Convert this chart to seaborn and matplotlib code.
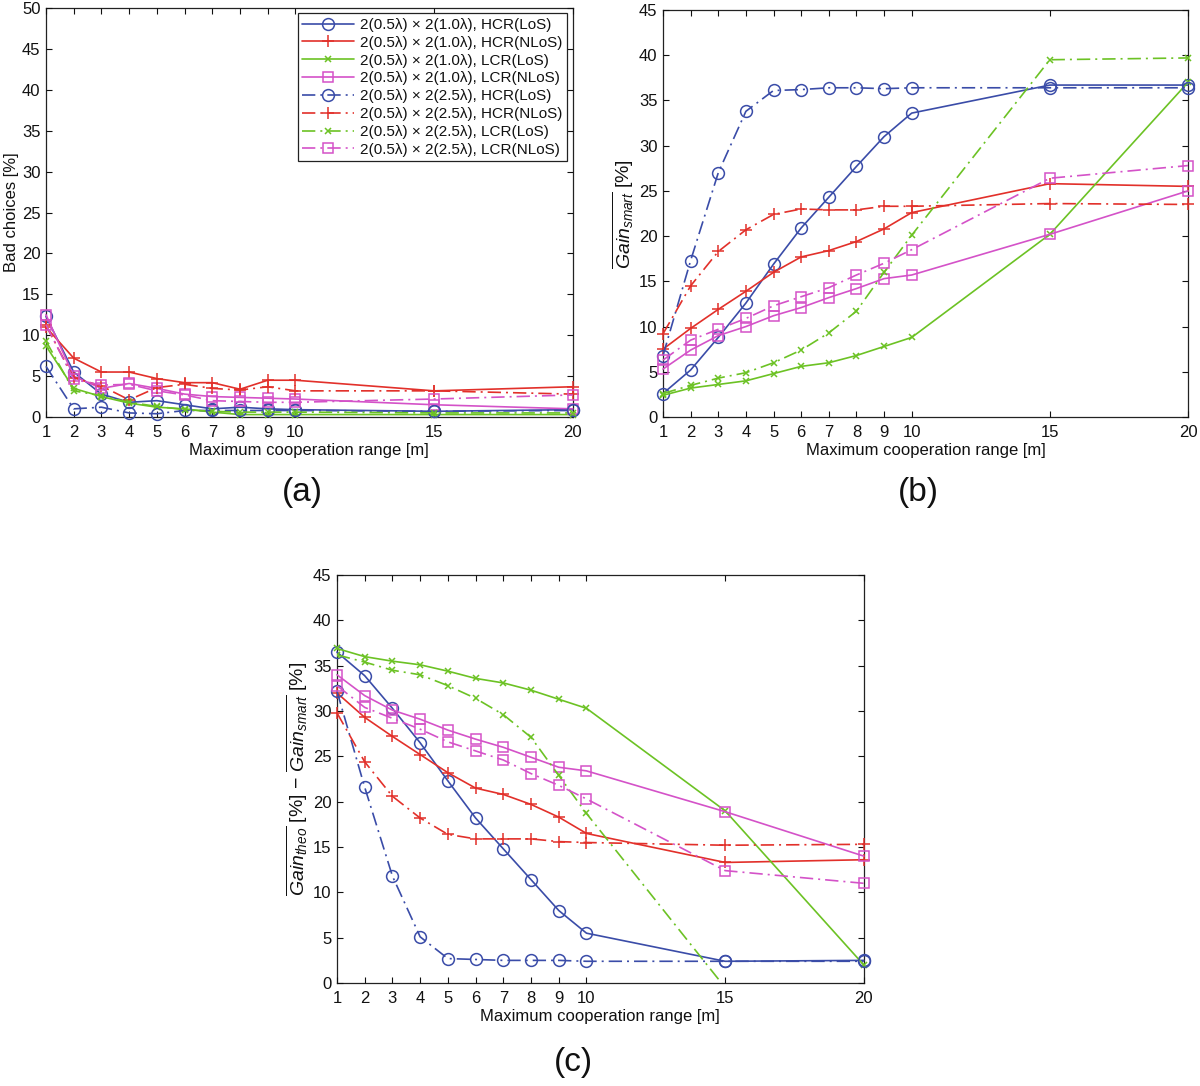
#!/usr/bin/env python3
"""
Bad choices and smart-gain curves versus maximum cooperation range,
three panels (a), (b), (c) in MATLAB-like style.
"""

import pandas as pd
import matplotlib.pyplot as plt
import seaborn as sns


# Data
RANGES = [1, 2, 3, 4, 5, 6, 7, 8, 9, 10, 15, 20]

LABELS = [
    "2(0.5λ) × 2(1.0λ), HCR(LoS)",
    "2(0.5λ) × 2(1.0λ), HCR(NLoS)",
    "2(0.5λ) × 2(1.0λ), LCR(LoS)",
    "2(0.5λ) × 2(1.0λ), LCR(NLoS)",
    "2(0.5λ) × 2(2.5λ), HCR(LoS)",
    "2(0.5λ) × 2(2.5λ), HCR(NLoS)",
    "2(0.5λ) × 2(2.5λ), LCR(LoS)",
    "2(0.5λ) × 2(2.5λ), LCR(NLoS)",
]

# (a) Bad choices [%]
bad_hcr_los_10 = [12.3, 5.5, 2.8, 1.8, 2.0, 1.5, 1.0, 1.2, 1.0, 0.9, 0.7, 0.9]
bad_hcr_nlos_10 = [11.0, 7.2, 5.5, 5.5, 4.7, 4.2, 4.2, 3.4, 4.5, 4.5, 3.2, 3.7]
bad_lcr_los_10 = [8.7, 3.5, 2.5, 1.7, 1.2, 1.0, 0.6, 0.3, 0.3, 0.3, 0.3, 0.3]
bad_lcr_nlos_10 = [12.5, 5.0, 3.5, 4.1, 3.5, 2.8, 2.5, 2.4, 2.3, 2.2, 1.5, 1.0]
bad_hcr_los_25 = [6.2, 1.0, 1.2, 0.5, 0.4, 0.8, 0.8, 0.8, 0.8, 0.8, 0.7, 0.8]
bad_hcr_nlos_25 = [11.2, 4.8, 3.8, 2.1, 3.6, 4.0, 3.5, 3.3, 3.7, 3.2, 3.2, 2.8]
bad_lcr_los_25 = [9.3, 3.2, 2.6, 1.8, 1.3, 0.9, 0.7, 0.6, 0.6, 0.6, 0.5, 0.5]
bad_lcr_nlos_25 = [11.3, 4.6, 3.9, 4.0, 3.2, 2.7, 2.0, 1.9, 1.8, 1.8, 2.2, 2.7]

# (b) mean smart gain [%]
smart_hcr_los_10 = [2.6, 5.2, 8.8, 12.6, 16.9, 20.9, 24.3, 27.7, 31.0, 33.6, 36.7, 36.7]
smart_hcr_nlos_10 = [7.5, 9.8, 11.9, 13.9, 16.0, 17.7, 18.4, 19.4, 20.8, 22.6, 25.8, 25.5]
smart_lcr_los_10 = [2.4, 3.2, 3.6, 4.0, 4.8, 5.6, 6.0, 6.8, 7.8, 8.8, 20.2, 37.0]
smart_lcr_nlos_10 = [5.3, 7.4, 9.0, 10.0, 11.2, 12.1, 13.2, 14.2, 15.3, 15.7, 20.2, 25.0]
smart_hcr_los_25 = [6.8, 17.3, 27.0, 33.8, 36.1, 36.2, 36.4, 36.4, 36.3, 36.4, 36.4, 36.4]
smart_hcr_nlos_25 = [9.2, 14.5, 18.3, 20.7, 22.4, 23.0, 22.9, 22.9, 23.3, 23.3, 23.6, 23.5]
smart_lcr_los_25 = [2.6, 3.5, 4.3, 4.9, 6.0, 7.4, 9.3, 11.7, 16.0, 20.1, 39.5, 39.7]
smart_lcr_nlos_25 = [6.3, 8.5, 9.7, 10.9, 12.3, 13.3, 14.3, 15.7, 17.0, 18.5, 26.4, 27.8]

# (c) mean theoretical gain minus mean smart gain [%]
diff_hcr_los_10 = [36.5, 33.9, 30.3, 26.5, 22.3, 18.2, 14.8, 11.4, 8.0, 5.5, 2.4, 2.5]
diff_hcr_nlos_10 = [32.0, 29.3, 27.2, 25.2, 23.2, 21.5, 20.8, 19.7, 18.3, 16.5, 13.3, 13.6]
diff_lcr_los_10 = [36.9, 36.0, 35.5, 35.1, 34.4, 33.6, 33.1, 32.3, 31.3, 30.3, 19.0, 2.0]
diff_lcr_nlos_10 = [34.0, 31.7, 30.1, 29.1, 27.9, 26.9, 26.0, 24.9, 23.8, 23.4, 18.9, 14.0]
diff_hcr_los_25 = [32.2, 21.6, 11.8, 5.1, 2.7, 2.6, 2.5, 2.5, 2.5, 2.4, 2.4, 2.4]
diff_hcr_nlos_25 = [29.8, 24.4, 20.6, 18.2, 16.4, 15.9, 15.9, 15.9, 15.6, 15.5, 15.2, 15.3]
diff_lcr_los_25 = [36.2, 35.4, 34.5, 34.0, 32.8, 31.4, 29.6, 27.1, 22.9, 18.7, -0.5, -0.7]
diff_lcr_nlos_25 = [32.8, 30.4, 29.2, 28.0, 26.6, 25.6, 24.6, 23.1, 21.8, 20.3, 12.4, 11.0]


# Style
sns.set_theme(style="ticks", context="notebook")
plt.rcParams["font.family"] = ["Liberation Sans", "DejaVu Sans"]
plt.rcParams["mathtext.fontset"] = "custom"
plt.rcParams["mathtext.rm"] = "Liberation Sans"
plt.rcParams["mathtext.it"] = "Liberation Sans:italic"
plt.rcParams["xtick.direction"] = "in"
plt.rcParams["ytick.direction"] = "in"
plt.rcParams["text.color"] = "#111111"
plt.rcParams["axes.labelcolor"] = "#111111"
plt.rcParams["xtick.color"] = "#111111"
plt.rcParams["ytick.color"] = "#111111"

BLUE = "#3a4ca8"
RED = "#e2302a"
GREEN = "#6cc224"
MAGENTA = "#d452c8"
DASHDOT = (0, (8, 3, 1.2, 3))

# colour, marker, marker size, line style for each of the 8 series
STYLES = [
    (BLUE, "o", 8.5, "-"),
    (RED, "+", 8, "-"),
    (GREEN, "x", 5, "-"),
    (MAGENTA, "s", 7, "-"),
    (BLUE, "o", 8.5, DASHDOT),
    (RED, "+", 8, DASHDOT),
    (GREEN, "x", 5, DASHDOT),
    (MAGENTA, "s", 7, DASHDOT),
]


def draw_panel(ax, series, ymax, ylabel, ylabel_size=12):
    for label, values, (color, marker, ms, ls) in zip(LABELS, series, STYLES):
        df = pd.DataFrame({"range": RANGES, "value": values})
        sns.lineplot(
            data=df, x="range", y="value", ax=ax, label=label,
            color=color, linestyle=ls, linewidth=1.2,
            marker=marker, markersize=ms, markerfacecolor="none",
            markeredgecolor=color, markeredgewidth=1.1,
            errorbar=None, sort=False, legend=False,
            clip_on=min(values) < 0,
        )
    ax.set_xlim(1, 20)
    ax.set_ylim(0, ymax)
    ax.set_xticks(RANGES)
    ax.set_yticks(range(0, ymax + 1, 5))
    ax.tick_params(top=True, right=True, labelsize=12, length=4,
                   width=0.8, pad=4)
    ax.tick_params(axis="x", pad=6)
    for side in ax.spines.values():
        side.set_linewidth(0.9)
        side.set_color("#222222")
        side.set_zorder(0.5)
    ax.set_xlabel("Maximum cooperation range [m]", fontsize=12, labelpad=2)
    ax.set_ylabel(ylabel, fontsize=ylabel_size, labelpad=2)


fig = plt.figure(figsize=(12, 10.86), dpi=100)

ax_a = fig.add_axes([0.0383, 0.616, 0.439, 0.3766])
ax_b = fig.add_axes([0.5525, 0.616, 0.4375, 0.3748])
ax_c = fig.add_axes([0.2808, 0.0948, 0.439, 0.3757])

draw_panel(ax_a,
           [bad_hcr_los_10, bad_hcr_nlos_10, bad_lcr_los_10, bad_lcr_nlos_10,
            bad_hcr_los_25, bad_hcr_nlos_25, bad_lcr_los_25, bad_lcr_nlos_25],
           50, "Bad choices [%]")
draw_panel(ax_b,
           [smart_hcr_los_10, smart_hcr_nlos_10, smart_lcr_los_10, smart_lcr_nlos_10,
            smart_hcr_los_25, smart_hcr_nlos_25, smart_lcr_los_25, smart_lcr_nlos_25],
           45, r"$\overline{Gain_{smart}}$ [%]", ylabel_size=14)
draw_panel(ax_c,
           [diff_hcr_los_10, diff_hcr_nlos_10, diff_lcr_los_10, diff_lcr_nlos_10,
            diff_hcr_los_25, diff_hcr_nlos_25, diff_lcr_los_25, diff_lcr_nlos_25],
           45, r"$\overline{Gain_{theo}}$ [%] $-$ $\overline{Gain_{smart}}$ [%]",
           ylabel_size=14)

leg = ax_a.legend(loc="upper right", fontsize=11, frameon=True, fancybox=False,
                  borderpad=0.3, labelspacing=0.25, handlelength=3.4,
                  handletextpad=0.4, borderaxespad=0.35)
leg.get_frame().set_edgecolor("#222222")
leg.get_frame().set_linewidth(0.9)
leg.get_frame().set_alpha(1.0)

fig.text(302 / 1200, 1 - 493 / 1086, "(a)", fontsize=24, ha="center", va="center")
fig.text(918 / 1200, 1 - 493 / 1086, "(b)", fontsize=24, ha="center", va="center")
fig.text(573 / 1200, 1 - 1063 / 1086, "(c)", fontsize=24, ha="center", va="center")

fig.savefig("out.png", dpi=100)
plt.close(fig)
